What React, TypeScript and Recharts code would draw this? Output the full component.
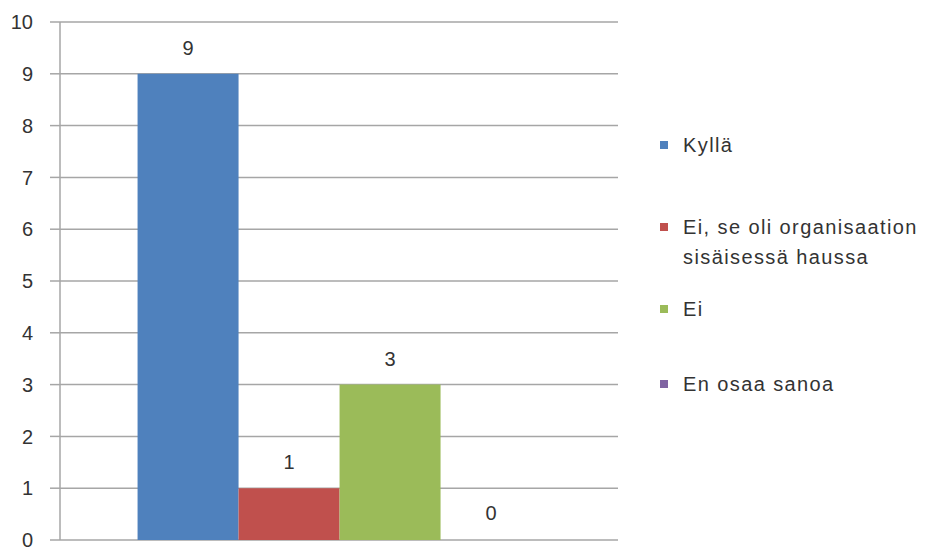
import { BarChart, Bar, XAxis, YAxis, CartesianGrid, Legend, LabelList, Rectangle } from 'recharts';

// one category, four answers
const categories = [''];
const seriesNames = ['Kyllä', 'Ei, se oli organisaation sisäisessä haussa', 'Ei', 'En osaa sanoa'];
const seriesValues = [9, 1, 3, 0];
const seriesColors = ['#4f81bd', '#c0504d', '#9bbb59', '#8064a2'];
const yTicks = [0, 1, 2, 3, 4, 5, 6, 7, 8, 9, 10];

const data = categories.map((c) => {
  const row: any = { name: c };
  seriesValues.forEach((v, i) => (row['s' + i] = v));
  return row;
});

const FONT = '"Liberation Sans", Arial, sans-serif';
const TEXT = '#333333';

// legend slot tops, picked to match the original spacing
const legendTops = [115, 197, 279, 354];

function LegendBox() {
  return (
    <div style={{ position: 'relative', width: 265, height: 547, fontFamily: FONT, fontSize: 20, letterSpacing: 1.4, color: TEXT }}>
      {seriesNames.map((n, i) => (
        <div key={n} style={{ position: 'absolute', left: 42, top: legendTops[i], display: 'flex', alignItems: 'flex-start' }}>
          <span style={{ width: 8, height: 8, background: seriesColors[i], marginTop: 4, marginRight: 15, flexShrink: 0 }} />
          <span style={{ width: 245, lineHeight: '30px', marginTop: -7 }}>{n}</span>
        </div>
      ))}
    </div>
  );
}

// zero-height bars get a min size so the label still shows, but draw nothing
const barShape = (props: any) => (props.height > 1.5 ? <Rectangle {...props} /> : <g />);

export default function App() {
  return (
    <div style={{ position: 'absolute', left: 0, top: 0, background: '#fff' }}>
      <BarChart
        width={925}
        height={547}
        data={data}
        margin={{ top: 22, right: 42, bottom: 7, left: 0 }}
        barCategoryGap="13.9%"
        barGap={0}
      >
        <CartesianGrid vertical={false} stroke="#a6a6a6" strokeWidth={1.5} />
        <XAxis dataKey="name" height={0} tick={false} tickLine={false} axisLine={{ stroke: '#a6a6a6', strokeWidth: 1.5 }} />
        <YAxis
          width={60}
          domain={[0, 10]}
          ticks={yTicks}
          interval={0}
          tickSize={10}
          tickMargin={17}
          axisLine={{ stroke: '#a6a6a6', strokeWidth: 1.5 }}
          tickLine={{ stroke: '#a6a6a6', strokeWidth: 1.5 }}
          tick={{ fill: TEXT, fontSize: 20, fontFamily: FONT }}
        />
        <Legend layout="vertical" align="right" verticalAlign="top" content={() => <LegendBox />} />
        {seriesNames.map((n, i) => (
          <Bar key={n} dataKey={'s' + i} name={n} fill={seriesColors[i]} minPointSize={1} shape={barShape} isAnimationActive={false}>
            <LabelList dataKey={'s' + i} position="top" offset={19} fill={TEXT} fontSize={20} fontFamily={FONT} />
          </Bar>
        ))}
      </BarChart>
    </div>
  );
}
